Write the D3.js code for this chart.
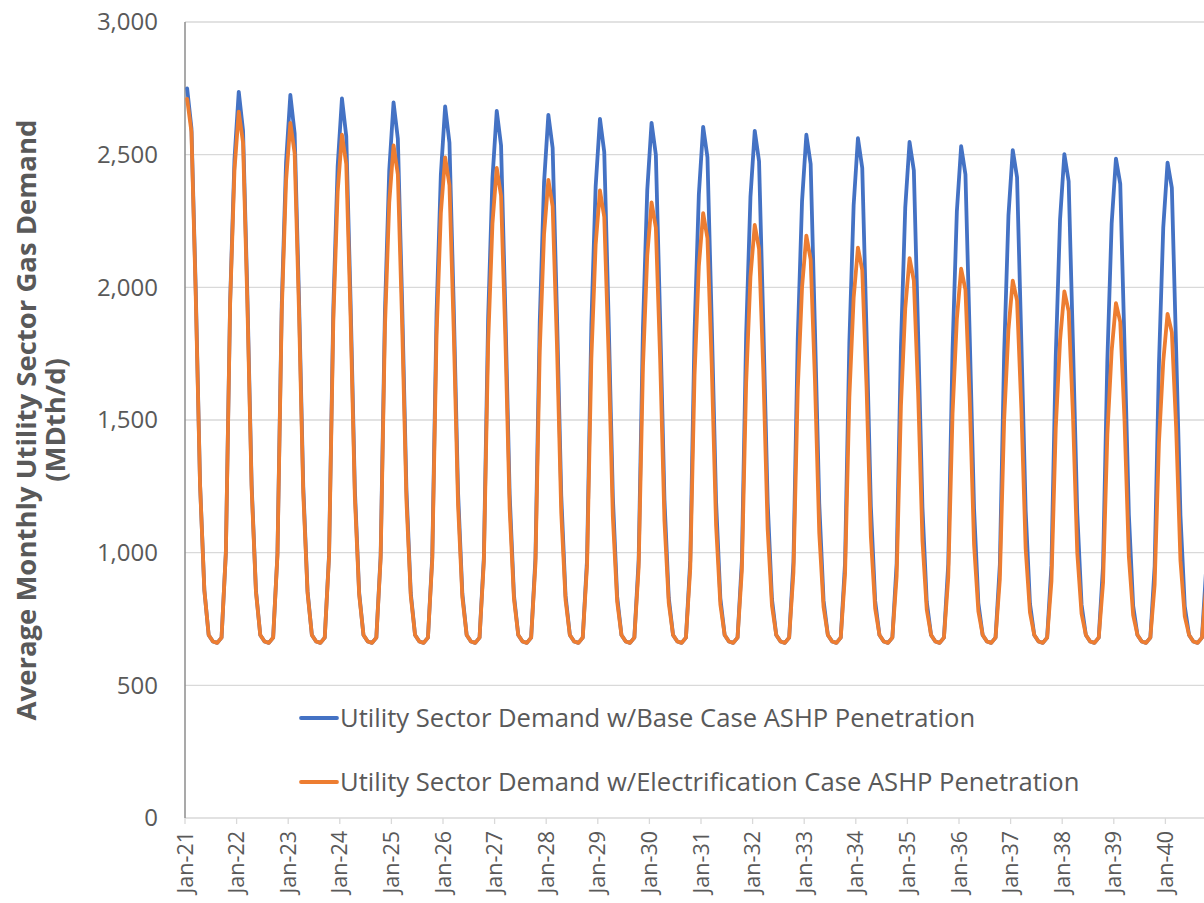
<!DOCTYPE html>
<html>
<head>
<meta charset="utf-8">
<script src="https://cdn.jsdelivr.net/npm/d3@7"></script>
<style>
  body { margin: 0; background: #fff; }
  svg { display: block; font-family: "Open Sans", Lato, sans-serif; }
</style>
</head>
<body>
<div id="chart"></div>
<script>
// monthly values, one row per year (Jan..Dec), 2021-2040
let baseCase = [
  2750,2600,1990,1260,860,690,665,660,680,1000,1950,2480,
  2737,2590,1975,1255,858,690,665,660,680,995,1935,2470,
  2725,2580,1965,1250,855,690,665,660,680,992,1925,2455,
  2712,2570,1950,1240,850,690,665,660,680,990,1910,2440,
  2697,2560,1940,1235,848,690,665,660,680,985,1900,2425,
  2682,2545,1925,1228,845,690,665,660,680,982,1885,2410,
  2665,2535,1910,1220,840,690,665,660,680,980,1870,2395,
  2650,2525,1900,1215,838,690,665,660,680,975,1860,2380,
  2635,2510,1890,1210,835,690,665,660,680,972,1845,2365,
  2620,2500,1875,1200,830,690,665,660,680,970,1830,2350,
  2605,2490,1865,1195,828,690,665,660,680,968,1820,2340,
  2590,2475,1855,1190,825,690,665,660,680,965,1805,2325,
  2575,2465,1840,1185,820,690,665,660,680,962,1790,2310,
  2562,2450,1830,1175,818,690,665,660,680,960,1780,2300,
  2548,2440,1820,1170,815,690,665,660,680,957,1765,2285,
  2532,2425,1810,1165,810,690,665,660,680,955,1750,2270,
  2517,2415,1795,1160,808,690,665,660,680,952,1740,2255,
  2502,2400,1785,1150,805,690,665,660,680,950,1725,2240,
  2485,2390,1775,1145,800,690,665,660,680,948,1710,2225,
  2470,2375,1765,1140,798,690,665,660,680,945,1700,2210
];
let electrification = [
  2710,2585,1965,1255,858,690,665,660,680,998,1940,2440,
  2662,2545,1940,1240,852,690,665,660,680,990,1910,2400,
  2620,2505,1915,1225,848,690,665,660,680,985,1880,2360,
  2575,2465,1890,1210,842,690,665,660,680,978,1850,2320,
  2535,2425,1860,1195,838,690,665,660,680,972,1820,2280,
  2490,2385,1835,1180,832,690,665,660,680,965,1790,2240,
  2450,2345,1810,1165,826,690,665,660,680,958,1760,2200,
  2405,2305,1785,1150,822,690,665,660,680,952,1730,2160,
  2365,2265,1755,1135,816,690,665,660,680,945,1700,2120,
  2320,2225,1730,1120,810,690,665,660,680,940,1670,2080,
  2280,2185,1705,1105,805,690,665,660,680,932,1640,2040,
  2235,2145,1680,1090,800,690,665,660,680,926,1615,2000,
  2195,2105,1650,1075,795,690,665,660,680,920,1585,1960,
  2150,2065,1625,1060,790,690,665,660,680,912,1555,1920,
  2110,2025,1600,1045,785,690,665,660,680,906,1525,1880,
  2070,1990,1575,1030,780,690,665,660,680,900,1500,1840,
  2025,1950,1545,1015,775,690,665,660,680,892,1470,1800,
  1985,1910,1520,1000,770,690,665,660,680,886,1445,1760,
  1940,1870,1495,985,765,690,665,660,680,880,1415,1720,
  1900,1830,1470,970,760,690,665,660,680,875,1390,1680
];
let tickLabels = ["Jan-21","Jan-22","Jan-23","Jan-24","Jan-25","Jan-26","Jan-27","Jan-28","Jan-29","Jan-30",
  "Jan-31","Jan-32","Jan-33","Jan-34","Jan-35","Jan-36","Jan-37","Jan-38","Jan-39","Jan-40"];
let yTicks = [0, 500, 1000, 1500, 2000, 2500, 3000];
let seriesNames = ["Utility Sector Demand w/Base Case ASHP Penetration",
  "Utility Sector Demand w/Electrification Case ASHP Penetration"];
let colors = ["#4472C4", "#ED7D31"];

let W = 1204, H = 903;
let plotLeft = 185, plotTop = 22, plotBottom = 818, monthW = 4.3;

let svg = d3.select("#chart").append("svg").attr("width", W).attr("height", H);

let x = d3.scaleLinear().domain([0, baseCase.length]).range([plotLeft, plotLeft + baseCase.length * monthW]);
let y = d3.scaleLinear().domain([0, 3000]).range([plotBottom, plotTop]);

svg.append("defs").append("clipPath").attr("id", "plot")
  .append("rect").attr("x", plotLeft).attr("y", 0).attr("width", W - plotLeft).attr("height", H);

// gridlines
svg.append("g").selectAll("line").data(yTicks).enter().append("line")
  .attr("x1", plotLeft).attr("x2", W)
  .attr("y1", d => y(d)).attr("y2", d => y(d))
  .attr("stroke", "#d9d9d9").attr("stroke-width", 1.3);

// y labels
svg.append("g").selectAll("text").data(yTicks).enter().append("text")
  .attr("x", 158).attr("y", d => y(d)).attr("dy", "0.35em")
  .attr("text-anchor", "end").attr("fill", "#595959").attr("font-size", 24)
  .text(d => d3.format(",")(d));

// x ticks + labels
let xt = svg.append("g");
xt.selectAll("line").data(tickLabels).enter().append("line")
  .attr("x1", (d, i) => x(i * 12)).attr("x2", (d, i) => x(i * 12))
  .attr("y1", plotBottom).attr("y2", plotBottom + 6)
  .attr("stroke", "#d9d9d9").attr("stroke-width", 1.3);
xt.selectAll("text").data(tickLabels).enter().append("text")
  .attr("transform", (d, i) => "translate(" + x(i * 12) + "," + (plotBottom + 13) + ") rotate(-90)")
  .attr("dy", "0.35em").attr("text-anchor", "end")
  .attr("fill", "#595959").attr("font-size", 21.5)
  .text(d => d);

// left axis line
svg.append("line").attr("x1", plotLeft).attr("x2", plotLeft).attr("y1", plotTop).attr("y2", plotBottom)
  .attr("stroke", "#8c8c8c").attr("stroke-width", 1.5);

// series lines
let line = d3.line().x((d, i) => x(i + 0.5)).y(d => y(d));
let g = svg.append("g").attr("clip-path", "url(#plot)");
[baseCase, electrification].forEach(function(s, k) {
  g.append("path").datum(s).attr("d", line)
    .attr("fill", "none").attr("stroke", colors[k]).attr("stroke-width", 3.8)
    .attr("stroke-linejoin", "round").attr("stroke-linecap", "round");
});

// legend
let lg = svg.append("g");
seriesNames.forEach(function(n, k) {
  let ly = 718 + k * 64;
  lg.append("line").attr("x1", 301).attr("x2", 337).attr("y1", ly).attr("y2", ly)
    .attr("stroke", colors[k]).attr("stroke-width", 3.8).attr("stroke-linecap", "round");
  lg.append("text").attr("x", 340).attr("y", ly).attr("dy", "0.35em")
    .attr("fill", "#595959").attr("font-size", 25.6).text(n);
});

// y title
let yt = svg.append("text").attr("transform", "translate(26," + 420 + ") rotate(-90)")
  .attr("text-anchor", "middle").attr("fill", "#595959").attr("font-size", 27.5).attr("font-weight", "bold");
yt.append("tspan").attr("x", 0).attr("dy", "0.35em").text("Average Monthly Utility Sector Gas Demand");
yt.append("tspan").attr("x", 0).attr("dy", "1.05em").text("(MDth/d)");
</script>
</body>
</html>
